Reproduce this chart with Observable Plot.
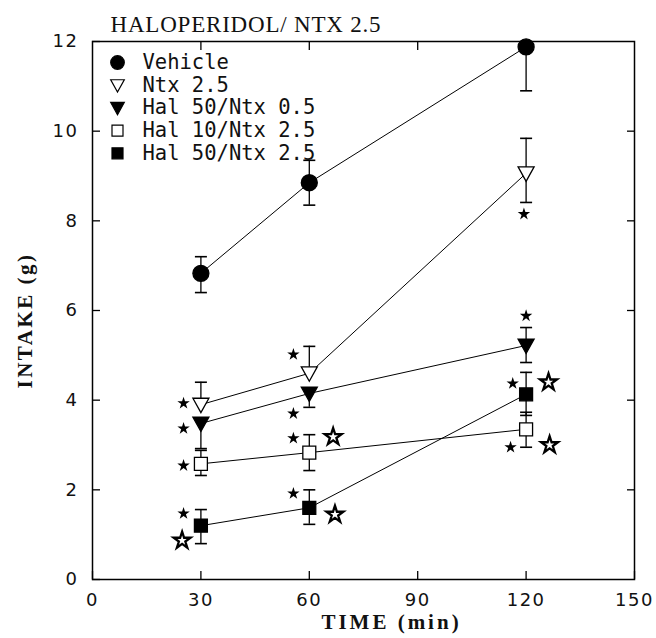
<!DOCTYPE html>
<html>
<head>
<meta charset="utf-8">
<script src="https://cdn.jsdelivr.net/npm/d3@7"></script>
<script src="https://cdn.jsdelivr.net/npm/@observablehq/plot@0.6"></script>
<style>
  html, body { margin: 0; padding: 0; background: white; }
</style>
</head>
<body>
<div id="chart"></div>
<script>
// ---- data ----
const times = [30, 60, 120];
const seriesNames = ["Vehicle", "Ntx 2.5", "Hal 50/Ntx 0.5", "Hal 10/Ntx 2.5", "Hal 50/Ntx 2.5"];

const vehicleMean = [6.83, 8.85, 11.88];
const vehicleHi   = [7.2, 9.35, 11.88];
const vehicleLo   = [6.4, 8.35, 10.9];

const ntxMean = [3.9, 4.6, 9.06];
const ntxHi   = [4.4, 5.2, 9.84];
const ntxLo   = [3.9, 4.6, 8.41];

const hal50n05Mean = [3.48, 4.15, 5.22];
const hal50n05Hi   = [3.48, 4.15, 5.62];
const hal50n05Lo   = [2.92, 3.84, 4.84];

const hal10n25Mean = [2.58, 2.83, 3.35];
const hal10n25Hi   = [2.88, 3.23, 3.73];
const hal10n25Lo   = [2.32, 2.43, 2.95];

const hal50n25Mean = [1.2, 1.6, 4.13];
const hal50n25Hi   = [1.56, 2.0, 4.62];
const hal50n25Lo   = [0.8, 1.23, 3.66];

// significance stars (filled = small, open = large)
const filledStarX = [25.2, 25.2, 25.2, 25.2, 55.6, 55.6, 55.6, 55.6, 119.4, 120, 116.3, 115.7];
const filledStarY = [3.93, 3.37, 2.54, 1.47, 5.02, 3.7, 3.15, 1.92, 8.15, 5.88, 4.37, 2.95];
const openStarX = [24.8, 66.6, 67.1, 126.2, 126.5];
const openStarY = [0.87, 3.18, 1.45, 4.4, 3.0];

const xTicks = [0, 30, 60, 90, 120, 150];
const yTicks = [0, 2, 4, 6, 8, 10, 12];

const titleText = "HALOPERIDOL/ NTX 2.5";
const xLabel = "TIME (min)";
const yLabel = "INTAKE (g)";

// ---- build table ----
const allMean = [vehicleMean, ntxMean, hal50n05Mean, hal10n25Mean, hal50n25Mean];
const allHi = [vehicleHi, ntxHi, hal50n05Hi, hal10n25Hi, hal50n25Hi];
const allLo = [vehicleLo, ntxLo, hal50n05Lo, hal10n25Lo, hal50n25Lo];
const rows = [];
seriesNames.forEach((s, si) => {
  times.forEach((t, ti) => {
    rows.push({series: s, time: t, mean: allMean[si][ti], hi: allHi[si][ti], lo: allLo[si][ti]});
  });
});
const filledStars = filledStarX.map((x, i) => ({x, y: filledStarY[i]}));
const openStars = openStarX.map((x, i) => ({x, y: openStarY[i]}));

// ---- symbols ----
const triDown = {
  draw(ctx, size) {
    const r = Math.sqrt(size / Math.PI);
    ctx.moveTo(-r, -0.8 * r);
    ctx.lineTo(r, -0.8 * r);
    ctx.lineTo(0, r);
    ctx.closePath();
  }
};
const capSym = {
  draw(ctx, size) {
    const r = Math.sqrt(size / Math.PI);
    ctx.moveTo(-r, 0);
    ctx.lineTo(r, 0);
  }
};
const styleBy = {
  "Vehicle":        {symbol: "circle", fill: "black", r: 8},
  "Ntx 2.5":        {symbol: triDown, fill: "white", r: 8},
  "Hal 50/Ntx 0.5": {symbol: triDown, fill: "black", r: 8},
  "Hal 10/Ntx 2.5": {symbol: "square", fill: "white", r: 7.3},
  "Hal 50/Ntx 2.5": {symbol: "square", fill: "black", r: 7.3}
};

const markerMarks = seriesNames.map(s => Plot.dot(rows.filter(d => d.series === s), {
  x: "time", y: "mean", symbol: styleBy[s].symbol, r: styleBy[s].r,
  fill: styleBy[s].fill, stroke: "black", strokeWidth: 1.3
}));

const legendMarks = seriesNames.flatMap((s, i) => [
  Plot.dot([s], {frameAnchor: "top-left", dx: 25, dy: 21 + i * 22.7,
    symbol: styleBy[s].symbol, r: styleBy[s].r * 0.85, fill: styleBy[s].fill, stroke: "black", strokeWidth: 1.2}),
  Plot.text([s], {frameAnchor: "top-left", dx: 50, dy: 21 + i * 22.7, text: d => d,
    textAnchor: "start", lineAnchor: "middle", fontFamily: "DejaVu Sans Mono", fontSize: 20.5, fill: "#111"})
]);

const tickFont = {fontFamily: "DejaVu Sans", fontSize: 18, fill: "#111"};

const chart = Plot.plot({
  width: 656,
  height: 638,
  marginLeft: 92,
  marginRight: 22,
  marginTop: 41,
  marginBottom: 59,
  style: {background: "white", fontFamily: "DejaVu Sans", color: "black"},
  x: {domain: [0, 150]},
  y: {domain: [0, 12]},
  marks: [
    Plot.frame({stroke: "black", strokeWidth: 1.5}),
    Plot.axisX({ticks: xTicks, tickSize: -8, tickPadding: 22, label: null, strokeWidth: 1.3, ...tickFont}),
    Plot.axisX({anchor: "top", ticks: xTicks.slice(1, -1), tickSize: -8, tickFormat: () => "", label: null, strokeWidth: 1.3}),
    Plot.axisY({ticks: yTicks, tickSize: -8, tickPadding: 22, label: null, strokeWidth: 1.3, ...tickFont}),
    Plot.axisY({anchor: "right", ticks: yTicks.slice(1, -1), tickSize: -8, tickFormat: () => "", label: null, strokeWidth: 1.3}),
    Plot.line(rows, {x: "time", y: "mean", z: "series", stroke: "black", strokeWidth: 1}),
    Plot.ruleX(rows, {x: "time", y1: "lo", y2: "hi", stroke: "black", strokeWidth: 1.3}),
    Plot.dot(rows.filter(d => d.hi > d.mean && d.hi < 11.9), {x: "time", y: "hi", symbol: capSym, r: 6, stroke: "black", strokeWidth: 1.6}),
    Plot.dot(rows.filter(d => d.lo < d.mean), {x: "time", y: "lo", symbol: capSym, r: 6, stroke: "black", strokeWidth: 1.6}),
    ...markerMarks,
    Plot.dot(filledStars, {x: "x", y: "y", symbol: "star", r: 3.9, fill: "black"}),
    Plot.dot(openStars, {x: "x", y: "y", symbol: "star", r: 5.3, fill: "white", stroke: "black", strokeWidth: 2.3}),
    ...legendMarks,
    Plot.text([titleText], {frameAnchor: "top-left", dx: 18, dy: -10, text: d => d, textAnchor: "start",
      lineAnchor: "bottom", fontFamily: "Liberation Serif", fontSize: 23, fill: "#111"}),
    Plot.text([xLabel], {frameAnchor: "bottom", dx: 28, dy: 43, text: d => d, textAnchor: "middle", lineAnchor: "middle",
      fontFamily: "Liberation Serif", fontWeight: "bold", fontSize: 21, fill: "#111"}),
    Plot.text([yLabel], {frameAnchor: "left", dx: -67, dy: 10, rotate: -90, text: d => d, textAnchor: "middle", lineAnchor: "middle",
      fontFamily: "Liberation Serif", fontWeight: "bold", fontSize: 21, fill: "#111"})
  ]
});

// letter spacing for the typewriter-like texts
const spacing = new Map([[titleText, "0.8px"], [xLabel, "3px"], [yLabel, "2.5px"]]);
d3.select(chart).selectAll("text").each(function() {
  const t = this.textContent;
  if (spacing.has(t)) this.setAttribute("letter-spacing", spacing.get(t));
  else if (/^\d+$/.test(t)) this.setAttribute("letter-spacing", "1.5px");
});
document.getElementById("chart").appendChild(chart);
</script>
</body>
</html>
